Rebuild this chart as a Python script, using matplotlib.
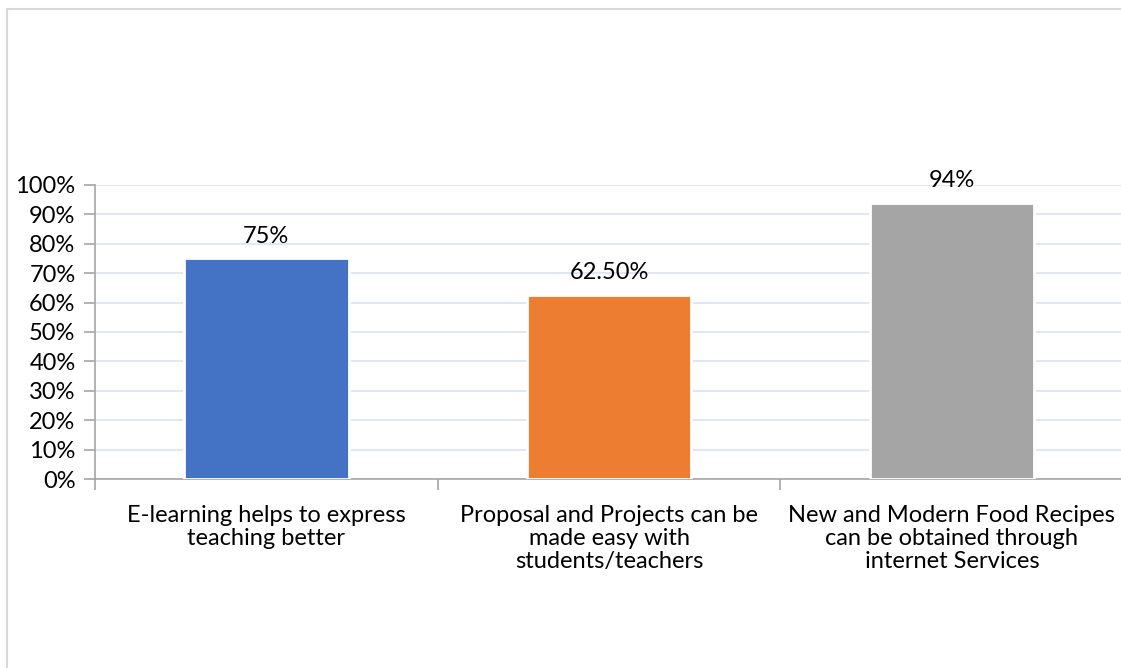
import numpy as np
import matplotlib.pyplot as plt
from matplotlib.patches import Rectangle

# data
categories = ["E-learning helps to express\nteaching better",
              "Proposal and Projects can be\nmade easy with\nstudents/teachers",
              "New and Modern Food Recipes\ncan be obtained through\ninternet Services"]
values = [0.75, 0.625, 0.94]
value_labels = ["75%", "62.50%", "94%"]
colors = ["#4472C4", "#ED7D31", "#A5A5A5"]

plt.rcParams['font.family'] = ['Lato', 'DejaVu Sans']

fig = plt.figure(figsize=(11.21, 6.68), dpi=100)
# chart border
fig.patches.append(Rectangle((7/1121, -0.01), 1.02, 1 - 9/668 + 0.01, transform=fig.transFigure,
                             fill=False, edgecolor="#D9D9D9", linewidth=1.5))

ax = fig.add_axes([95/1121, 1 - 479/668, 1 - 95/1121 + 0.002, (479 - 185)/668])
x = np.arange(len(categories))
ax.bar(x, values, width=0.48, color=colors, edgecolor="white", linewidth=2, zorder=3)

for xi, v, lab in zip(x, values, value_labels):
    ax.text(xi, v + 0.04, lab, ha="center", va="bottom", fontsize=17, color="#000000")

ax.set_xlim(-0.5, len(categories) - 0.5)
ax.set_ylim(0, 1.0)
ax.set_yticks(np.arange(0, 1.01, 0.1))
ax.set_yticklabels([f"{int(round(t*100))}%" for t in np.arange(0, 1.01, 0.1)], fontsize=17)
ax.yaxis.grid(True, color="#D9E1F2", linewidth=1.2, zorder=0)
ax.set_axisbelow(True)

# category separators
ax.set_xticks(np.arange(-0.5, len(categories), 1.0))
ax.set_xticklabels([])
ax.set_xticks(x, minor=True)
ax.set_xticklabels(categories, minor=True, fontsize=17, linespacing=1.1)
ax.tick_params(axis="x", which="minor", length=0, pad=19)
ax.tick_params(axis="x", which="major", length=8, color="#A6A6A6", width=1.2)
ax.tick_params(axis="y", length=8, color="#A6A6A6", width=1.2, pad=6)

for s in ["top", "right"]:
    ax.spines[s].set_visible(False)
for s in ["left", "bottom"]:
    ax.spines[s].set_color("#A6A6A6")
    ax.spines[s].set_linewidth(1.2)

fig.savefig("out.png", dpi=100)
